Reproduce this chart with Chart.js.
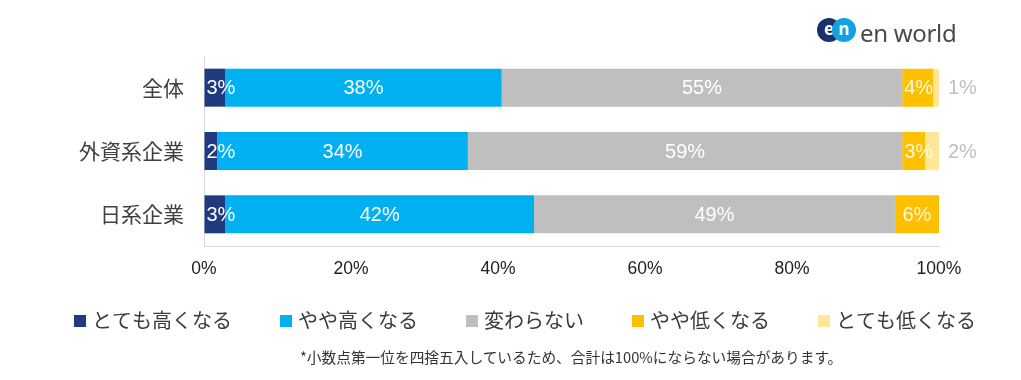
<!DOCTYPE html>
<html><head><meta charset="utf-8">
<script src="https://cdn.jsdelivr.net/npm/chart.js@4"></script>
<style>
body{margin:0;background:#fff;}
#wrap{position:relative;width:1021px;height:380px;overflow:hidden;background:#fff;}
canvas{position:absolute;left:0;top:0;}
#logo{position:absolute;left:817px;top:18px;height:24px;}
.dot{position:absolute;top:0;width:24px;height:24px;border-radius:50%;color:#fff;font:bold 17px "Noto Sans",sans-serif;text-align:center;line-height:22px;}
#d1{left:0;background:#1c2f6e;}
#d2{left:15px;background:#12a2e2;}
#logotxt{position:absolute;left:43px;top:3px;font:24px "Noto Sans",sans-serif;line-height:24px;color:#4a4a4a;white-space:nowrap;letter-spacing:-0.3px;}
#note{position:absolute;left:300px;top:347px;font:14.7px "Noto Sans CJK JP",sans-serif;line-height:20px;color:#333;white-space:nowrap;}
</style></head><body>
<div id="wrap"><canvas id="c" width="1021" height="380"></canvas>
<div id="logo"><div class="dot" id="d1">e</div><div class="dot" id="d2">n</div><div id="logotxt">en world</div></div>
<div id="note">*小数点第一位を四捨五入しているため、合計は100%にならない場合があります。</div>
</div>
<script>
const categories = ['全体', '外資系企業', '日系企業'];
const seriesNames = ['とても高くなる', 'やや高くなる', '変わらない', 'やや低くなる', 'とても低くなる'];
const veryHigh = [2.9, 1.8, 2.9];
const slightlyHigh = [37.6, 34.1, 42.0];
const noChange = [54.5, 59.1, 49.1];
const slightlyLow = [4.2, 3.1, 6.0];
const veryLow = [0.8, 1.9, 0];
const xTicks = [0, 20, 40, 60, 80, 100];

const seriesData = [veryHigh, slightlyHigh, noChange, slightlyLow, veryLow];
const colors = ['#1f3a7f', '#00b0f0', '#bfbfbf', '#ffc000', '#ffe699'];

const labelPlugin = {
  id: 'segLabels',
  afterDatasetsDraw(chart) {
    const ctx = chart.ctx;
    ctx.save();
    ctx.font = '20px "Liberation Sans", Arial, sans-serif';
    ctx.textBaseline = 'middle';
    ctx.textAlign = 'left';
    chart.data.datasets.forEach((ds, di) => {
      const meta = chart.getDatasetMeta(di);
      meta.data.forEach((bar, i) => {
        const v = ds.data[i];
        if (!v) return;
        const txt = Math.round(v) + '%';
        const w = ctx.measureText(txt).width;
        const p = bar.getProps(['x', 'base', 'y'], true);
        let left;
        if (di === 4) {
          ctx.fillStyle = '#bfbfbf';
          left = p.x + 9;
        } else {
          ctx.fillStyle = di === 3 ? '#fff8e0' : '#ffffff';
          left = Math.max((p.x + p.base) / 2 - w / 2, p.base + 2);
        }
        ctx.fillText(txt, left, p.y + 1);
      });
    });
    ctx.restore();
  }
};

const legendPlugin = {
  id: 'customLegend',
  afterDraw(chart) {
    const ctx = chart.ctx;
    ctx.save();
    ctx.font = '20px "Noto Sans CJK JP", sans-serif';
    ctx.textBaseline = 'middle';
    ctx.textAlign = 'left';
    const box = 12, gap = 6, spacing = 48, cy = 320, center = 525;
    const items = chart.data.datasets.map(ds => ({ text: ds.label, color: ds.backgroundColor, w: box + gap + ctx.measureText(ds.label).width }));
    const total = items.reduce((a, it) => a + it.w, 0) + spacing * (items.length - 1);
    let x = center - total / 2;
    items.forEach(it => {
      ctx.fillStyle = it.color;
      ctx.fillRect(x, cy - box / 2 + 1, box, box);
      ctx.fillStyle = '#3a3a3a';
      ctx.fillText(it.text, x + box + gap, cy);
      x += it.w + spacing;
    });
    ctx.restore();
  }
};

new Chart(document.getElementById('c'), {
  type: 'bar',
  data: {
    labels: categories,
    datasets: seriesNames.map((n, k) => ({
      label: n,
      data: seriesData[k],
      backgroundColor: colors[k],
      borderWidth: 0,
      categoryPercentage: 0.6,
      barPercentage: 1
    }))
  },
  options: {
    indexAxis: 'y',
    responsive: false,
    animation: false,
    layout: { padding: { top: 56, right: 82, bottom: 94, left: 0 } },
    scales: {
      x: {
        stacked: true, min: 0, max: 100,
        afterBuildTicks(s) { s.ticks = xTicks.map(v => ({ value: v })); },
        ticks: { callback: v => v + '%', font: { family: '"Liberation Sans", Arial, sans-serif', size: 17.5 }, color: '#222', padding: 13, maxRotation: 0 },
        grid: { display: true, drawOnChartArea: false, drawTicks: false },
        border: { display: true, color: '#d9d9d9', width: 1 },
        afterFit(s) { s.height = 40; }
      },
      y: {
        stacked: true,
        ticks: { font: { family: '"Noto Sans CJK JP", sans-serif', size: 21 }, color: '#404040', padding: 20 },
        grid: { display: true, drawOnChartArea: false, drawTicks: false },
        border: { display: true, color: '#d9d9d9', width: 1 },
        afterFit(s) { s.width = 204; }
      }
    },
    plugins: {
      legend: { display: false },
      tooltip: { enabled: false }
    }
  },
  plugins: [labelPlugin, legendPlugin]
});
</script>
</body></html>
